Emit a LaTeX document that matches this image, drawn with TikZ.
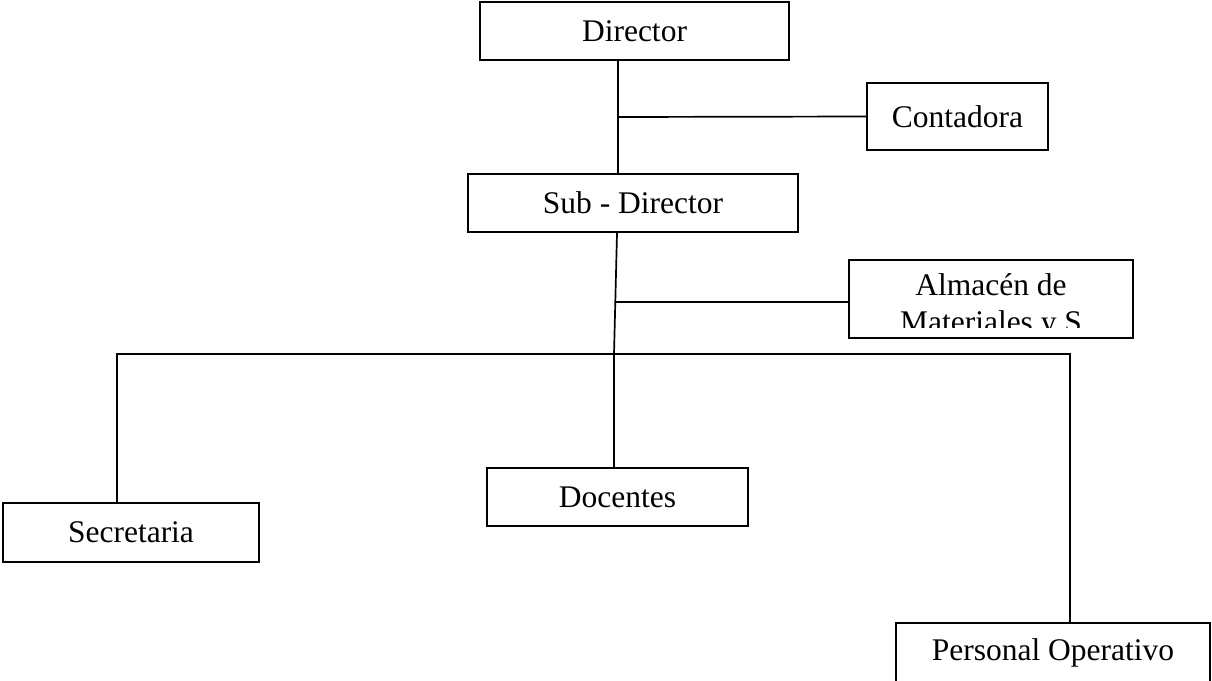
\documentclass[tikz,border=0pt]{standalone}
\usepackage{fontspec}
\setmainfont{Liberation Serif}
\usetikzlibrary{calc}
\begin{document}
\begin{tikzpicture}[x=1pt,y=-1pt,
  orgbox/.style={draw, line width=1.8pt, inner sep=0pt, fill=white,
    font=\fontsize{31.5}{37}\selectfont},
  link/.style={line width=1.7pt},
  boxtext/.style={inner sep=0pt, font=\fontsize{31.5}{37}\selectfont}]
  \useasboundingbox (0,0) rectangle (1212,680);
  \clip (0,0) rectangle (1212,680);

  % boxes
  \node[orgbox, minimum width=309pt, minimum height=58pt] (dir) at (634.5,31) {Director};
  \node[orgbox, minimum width=181pt, minimum height=67pt] (cont) at (957.5,116.5) {Contadora};
  \node[orgbox, minimum width=330pt, minimum height=58pt] (sub) at (633,203) {Sub - Director};
  \node[orgbox, minimum width=284pt, minimum height=78pt] (alm) at (991,299) {};
  \begin{scope}
    \clip (851,262) rectangle (1131,327);
    \node[boxtext, anchor=base] (alm1) at (991,295) {Almacén de};
    \node[boxtext, anchor=base] (alm2) at (991,332) {Materiales y S};
  \end{scope}
  \node[orgbox, minimum width=256pt, minimum height=59pt] (sec) at (131,532.5) {Secretaria};
  \node[orgbox, minimum width=261pt, minimum height=58pt] (doc) at (617.5,497) {Docentes};
  \node[orgbox, minimum width=314pt, minimum height=60pt] (pers) at (1053,653) {Personal Operativo};

  % junction points on the trunk
  \coordinate (j1) at (618,117);
  \coordinate (j2) at (615.3,302);
  \coordinate (bus) at (614,354);

  % connectors
  \draw[link] (dir.south -| j1) -- (sub.north -| j1);
  \draw[link] (j1) -- (cont.west);
  \draw[link] ($(sub.south)+(-16,0)$) -- (j2) -- (bus);
  \draw[link] (j2) -- (alm.west |- j2);
  \draw[link] ($(sec.north)+(-14,0)$) |- (bus) -| ($(pers.north)+(17,0)$);
  \draw[link] (bus) -- (doc.north -| bus);
\end{tikzpicture}
\end{document}
